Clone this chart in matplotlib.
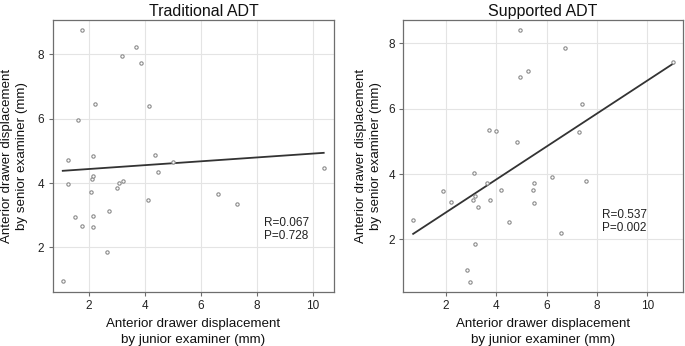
import matplotlib
matplotlib.use('Agg')
import matplotlib.pyplot as plt
import numpy as np

plt.rcParams['font.family'] = ['Liberation Sans', 'DejaVu Sans']

# Traditional ADT: junior (x) vs senior (y)
trad_junior = [1.75, 3.69, 3.18, 3.86, 2.21, 4.16, 1.61, 1.27, 2.16, 4.38,
               4.48, 5.01, 1.24, 2.11, 2.16, 2.07, 3.09, 3.21, 3.01, 4.11,
               2.71, 1.49, 2.15, 1.77, 2.16, 2.64, 1.07, 6.61, 7.31, 10.39]
trad_senior = [8.76, 8.24, 7.96, 7.74, 6.47, 6.40, 5.96, 4.73, 4.83, 4.86,
               4.35, 4.65, 3.96, 4.14, 4.23, 3.71, 3.99, 4.05, 3.83, 3.46,
               3.12, 2.94, 2.97, 2.66, 2.63, 1.86, 0.94, 3.66, 3.34, 4.47]
trad_fit = (0.060, 4.316)   # slope, intercept
trad_stats = "R=0.067\nP=0.728"

# Supported ADT
supp_junior = [4.96, 5.28, 4.96, 3.73, 3.98, 4.84, 3.11, 3.65, 1.90, 4.21,
               3.15, 2.22, 3.10, 3.74, 3.29, 0.71, 4.51, 3.15, 2.86, 2.98,
               5.50, 5.48, 5.50, 6.72, 7.42, 7.29, 6.21, 7.55, 6.57, 11.03]
supp_senior = [8.42, 7.14, 6.98, 5.35, 5.31, 4.98, 4.04, 3.74, 3.47, 3.51,
               3.33, 3.13, 3.19, 3.19, 2.98, 2.60, 2.54, 1.85, 1.07, 0.70,
               3.74, 3.51, 3.12, 7.85, 6.14, 5.28, 3.92, 3.78, 2.20, 7.42]
supp_fit = (0.505, 1.81)
supp_stats = "R=0.537\nP=0.002"

panels = [
    ("Traditional ADT", trad_junior, trad_senior, trad_fit, trad_stats,
     (0.71, 10.77), (0.62, 9.07), (8.24, 2.55), 0.537, -0.137),
    ("Supported ADT", supp_junior, supp_senior, supp_fit, supp_stats,
     (0.32, 11.4), (0.40, 8.71), (8.19, 2.55), 0.5, -0.125),
]

fig = plt.figure(figsize=(6.85, 3.46), dpi=100)
boxes = [[0.0769, 0.157, 0.4112, 0.785], [0.5888, 0.157, 0.4078, 0.785]]

for box, (title, xs, ys, fit, stats, xlim, ylim, tpos, title_x, ylab_x) in zip(boxes, panels):
    ax = fig.add_axes(box)
    xs = np.array(xs)
    ys = np.array(ys)
    ax.plot(xs, ys, 'o', ms=2.4, mfc='white', mec='#8a8a8a', mew=0.8, zorder=3)
    lx = np.array([xs.min(), xs.max()])
    ax.plot(lx, fit[0] * lx + fit[1], color='#333333', lw=1.3, zorder=2)
    ax.text(tpos[0], tpos[1], stats, fontsize=8.5, color='#222222',
            va='center', ha='left', linespacing=1.15)
    ax.set_xlim(*xlim)
    ax.set_ylim(*ylim)
    ax.set_xticks([2, 4, 6, 8, 10])
    ax.set_yticks([2, 4, 6, 8])
    ax.grid(True, color='#e4e4e4', lw=0.8)
    ax.set_axisbelow(True)
    for s in ax.spines.values():
        s.set_color('#6e6e6e')
        s.set_linewidth(0.9)
    ax.tick_params(length=3, width=0.8, color='#6e6e6e', labelsize=8.5,
                   labelcolor='#222222', pad=3)
    ax.set_title(title, fontsize=11.5, pad=3, color='#111111', x=title_x)
    ax.set_xlabel("Anterior drawer displacement\nby junior examiner (mm)",
                  fontsize=9.6, color='#111111', labelpad=4, linespacing=1.45)
    ax.set_ylabel("Anterior drawer displacement\nby senior examiner (mm)",
                  fontsize=9.6, color='#111111', linespacing=1.35, va='center')
    ax.yaxis.set_label_coords(ylab_x, 0.5)

fig.savefig('out.png', dpi=100)
